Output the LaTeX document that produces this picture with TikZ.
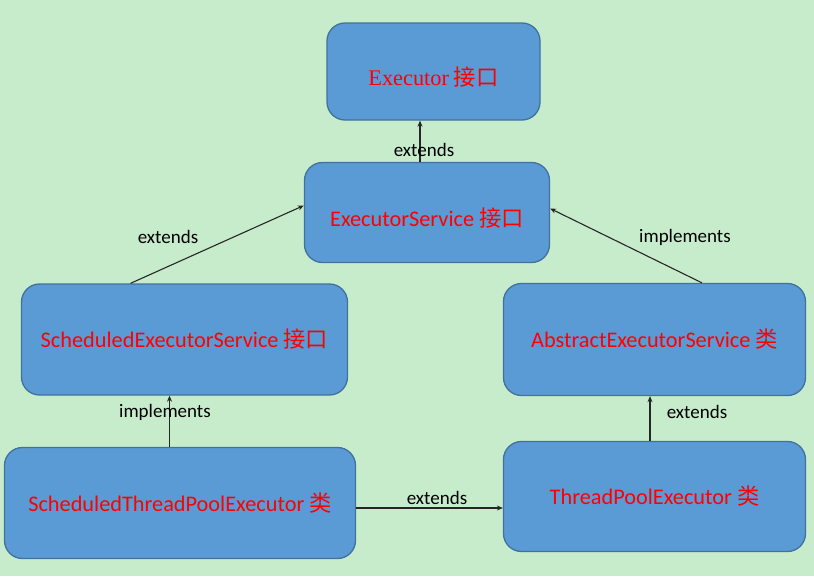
\documentclass[tikz,border=0pt]{standalone}
\usepackage{fontspec}
\setmainfont{Carlito}
\newfontfamily\cjk{Noto Sans CJK SC}
\newfontfamily\timesfont{Liberation Serif}
\usetikzlibrary{arrows.meta}

\definecolor{bggreen}{RGB}{199,236,204}
\definecolor{boxblue}{RGB}{91,155,213}
\definecolor{boxedge}{RGB}{65,113,156}

\tikzset{
    box/.style={draw=boxedge, line width=1.3pt, fill=boxblue, rounded corners=18pt,
        text=red, font=\fontsize{22.3}{25}\selectfont, inner sep=0pt},
    lowtext/.style={text height=30pt, text depth=3pt},
    lbl/.style={font=\fontsize{19}{22}\selectfont, text=black},
    conn/.style={draw=black!85, line width=1.1pt, -{Stealth[length=6pt,width=5pt]}}
}

\begin{document}
\begin{tikzpicture}[x=1pt, y=-1pt]
    % Фон
    \fill[bggreen] (0,0) rectangle (814,576);
    \useasboundingbox (0,0) rectangle (814,576);

    % Интерфейсы
    \node[box, lowtext, minimum width=213pt, minimum height=97pt] (ex) at (433.5,71.5)
        {{\timesfont Executor} {\cjk 接口}};
    \node[box, lowtext, minimum width=245pt, minimum height=100pt] (es) at (427,212.5)
        {ExecutorService {\cjk 接口}};
    \node[box, minimum width=326pt, minimum height=111pt] (sei) at (184.5,339.5)
        {ScheduledExecutorService {\cjk 接口}};

    % Классы
    \node[box, minimum width=302pt, minimum height=112pt] (aes) at (654.5,339.5)
        {AbstractExecutorService {\cjk 类}};
    \node[box, minimum width=351pt, minimum height=111pt] (stpe) at (180,503)
        {ScheduledThreadPoolExecutor {\cjk 类}};
    \node[box, minimum width=302pt, minimum height=110pt] (tpe) at (654.5,496.5)
        {ThreadPoolExecutor {\cjk 类}};

    % Связи
    \draw[conn] ([xshift=-7pt]es.north) -- ([xshift=-7pt]es.north |- ex.south);
    \draw[conn] ([xshift=-54pt]sei.north) -- ([yshift=7pt]es.west);
    \draw[conn] ([xshift=47.5pt]aes.north) -- ([yshift=4pt]es.east);
    \draw[conn] ([xshift=-15pt]sei.south |- stpe.north) -- ([xshift=-15pt]sei.south);
    \draw[conn] ([xshift=-4.5pt]tpe.north) -- ([xshift=-4.5pt]tpe.north |- aes.south);
    \draw[conn] ([yshift=-5pt]stpe.east) -- ([yshift=-5pt]stpe.east -| tpe.west);

    % Подписи
    \node[lbl] (l1) at (424,150) {extends};
    \node[lbl] (l2) at (168,237) {extends};
    \node[lbl] (l3) at (685,237) {implements};
    \node[lbl] (l4) at (165,412) {implements};
    \node[lbl] (l5) at (697,412) {extends};
    \node[lbl] (l6) at (437,498) {extends};
\end{tikzpicture}
\end{document}
